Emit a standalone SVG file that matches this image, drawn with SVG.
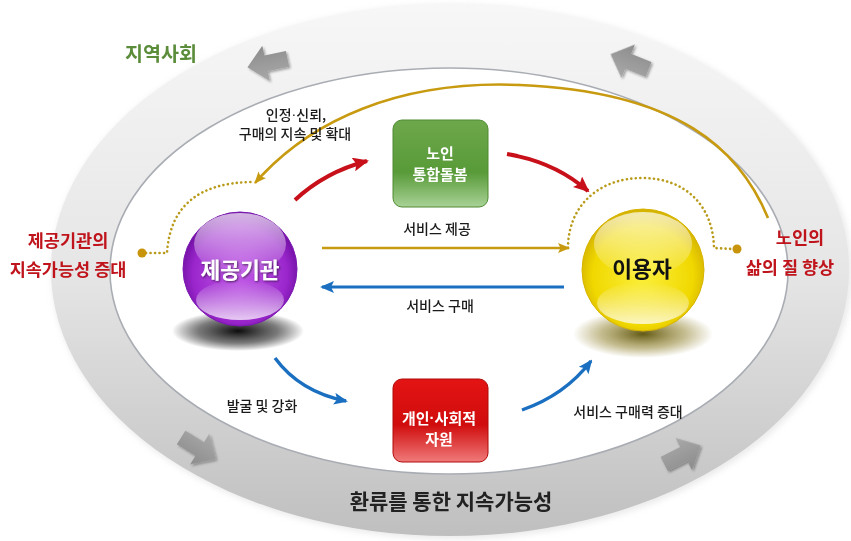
<svg xmlns="http://www.w3.org/2000/svg" width="851" height="541" viewBox="0 0 851 541">
  <style>
    text { font-family: "Noto Sans CJK KR", "Noto Sans", sans-serif; text-anchor: middle; dominant-baseline: central; }
    .lbl { font-size: 14px; font-weight: 500; fill: #1a1a1a; }
    .red { font-size: 17.5px; font-weight: bold; fill: #c0141c; }
    .box { font-size: 15px; font-weight: bold; fill: #ffffff; }
    .dt { font-family: "Liberation Sans", sans-serif; }
    .dots { fill: none; stroke: #b89a18; stroke-width: 2.6; stroke-linecap: round; stroke-dasharray: 0.1 4.4; }
    .gdot { fill: #c8940c; }
  </style>
  <defs>
    <linearGradient id="ringG" x1="0" y1="0" x2="0" y2="1">
      <stop offset="0" stop-color="#f7f7f7"/>
      <stop offset="0.5" stop-color="#e6e6e6"/>
      <stop offset="1" stop-color="#bfbfbf"/>
    </linearGradient>
    <linearGradient id="arrG" x1="0" y1="0" x2="0" y2="1">
      <stop offset="0" stop-color="#a9a9a9"/>
      <stop offset="1" stop-color="#8c8c8c"/>
    </linearGradient>
    <radialGradient id="purG" cx="0.5" cy="0.55" r="0.55">
      <stop offset="0" stop-color="#c25ae8"/>
      <stop offset="0.75" stop-color="#9a26cc"/>
      <stop offset="1" stop-color="#6c0c9e"/>
    </radialGradient>
    <radialGradient id="yelG" cx="0.5" cy="0.55" r="0.55">
      <stop offset="0" stop-color="#fbef3a"/>
      <stop offset="0.75" stop-color="#f0d800"/>
      <stop offset="1" stop-color="#d2b000"/>
    </radialGradient>
    <linearGradient id="hiG" x1="0" y1="0" x2="0" y2="1">
      <stop offset="0" stop-color="#ffffff" stop-opacity="0.7"/>
      <stop offset="1" stop-color="#ffffff" stop-opacity="0.05"/>
    </linearGradient>
    <linearGradient id="loG" x1="0" y1="0" x2="0" y2="1">
      <stop offset="0" stop-color="#ffffff" stop-opacity="0"/>
      <stop offset="1" stop-color="#ffffff" stop-opacity="0.75"/>
    </linearGradient>
    <radialGradient id="shP" cx="0.5" cy="0.5" r="0.5">
      <stop offset="0" stop-color="#000000" stop-opacity="0.95"/>
      <stop offset="0.6" stop-color="#202020" stop-opacity="0.6"/>
      <stop offset="1" stop-color="#000000" stop-opacity="0"/>
    </radialGradient>
    <radialGradient id="shY" cx="0.5" cy="0.5" r="0.5">
      <stop offset="0" stop-color="#5a5008" stop-opacity="0.95"/>
      <stop offset="0.6" stop-color="#8a7a20" stop-opacity="0.5"/>
      <stop offset="1" stop-color="#8a7a20" stop-opacity="0"/>
    </radialGradient>
    <linearGradient id="grnG" x1="0" y1="0" x2="0" y2="1">
      <stop offset="0" stop-color="#6ea84c"/>
      <stop offset="0.6" stop-color="#589a38"/>
      <stop offset="1" stop-color="#a8d296"/>
    </linearGradient>
    <linearGradient id="redG" x1="0" y1="0" x2="0" y2="1">
      <stop offset="0" stop-color="#e41414"/>
      <stop offset="0.55" stop-color="#d00c0c"/>
      <stop offset="1" stop-color="#f07a7a"/>
    </linearGradient>
    <filter id="soft" x="-20%" y="-20%" width="140%" height="140%">
      <feGaussianBlur stdDeviation="3"/>
    </filter>
    <filter id="ashadow" x="-30%" y="-30%" width="160%" height="160%">
      <feDropShadow dx="1.5" dy="1.5" stdDeviation="1.2" flood-color="#000" flood-opacity="0.35"/>
    </filter>
    <filter id="tshadow" x="-20%" y="-20%" width="140%" height="140%">
      <feDropShadow dx="1" dy="1" stdDeviation="0.8" flood-color="#000" flood-opacity="0.6"/>
    </filter>
    <path id="garrow" d="M-20,-8 L2,-8 L2,-18 L21,0 L2,18 L2,8 L-20,8 Z"/>
    <marker id="mRed" markerWidth="16" markerHeight="14" refX="14" refY="7" orient="auto" markerUnits="userSpaceOnUse">
      <path d="M0,0 L16,7 L0,14 L3,7 Z" fill="#c8101a"/>
    </marker>
    <marker id="mBlue" markerWidth="14" markerHeight="12" refX="12" refY="6" orient="auto" markerUnits="userSpaceOnUse">
      <path d="M0,0 L14,6 L0,12 L3,6 Z" fill="#1a6fc0"/>
    </marker>
    <marker id="mGold" markerWidth="12" markerHeight="10" refX="11" refY="5" orient="auto" markerUnits="userSpaceOnUse">
      <path d="M0,0 L12,5 L0,10 L2.5,5 Z" fill="#c89a10"/>
    </marker>
  </defs>

  <rect width="851" height="541" fill="#ffffff"/>

  <g id="community-ring">
    <ellipse cx="452" cy="272" rx="400" ry="267" fill="#d6d6d6" opacity="0.5" filter="url(#soft)"/>
    <ellipse cx="450" cy="270" rx="399" ry="266" fill="url(#ringG)"/>
    <ellipse cx="449" cy="271" rx="339" ry="203" fill="#ffffff" stroke="#a9adb3" stroke-width="1.6"/>
    <g fill="url(#arrG)" filter="url(#ashadow)">
      <use href="#garrow" transform="translate(268,63) rotate(168)"/>
      <use href="#garrow" transform="translate(630,62) rotate(-158)"/>
      <use href="#garrow" transform="translate(198,448) rotate(32)"/>
      <use href="#garrow" transform="translate(682,455) rotate(-27)"/>
    </g>
    <text x="161" y="52" style="font-size:19.5px;font-weight:bold;fill:#5a8c3a">지역사회</text>
    <text x="451" y="500" style="font-size:21px;font-weight:bold;fill:#222222">환류를 통한 지속가능성</text>
  </g>

  <g id="connectors">
    <path d="M768,218 C 740,150 680,92 520,85 C 400,80 310,120 255,183" fill="none" stroke="#c89a10" stroke-width="2.6" marker-end="url(#mGold)"/>
    <path d="M146,253 L167,253 C 170,205 200,183 251,182" class="dots"/>
    <path d="M568,248 C 568,205 600,178 642,178 C 685,178 713,205 714,248 L733,249" class="dots"/>
    <circle cx="142" cy="253" r="4.5" class="gdot"/>
    <circle cx="737" cy="249" r="4.5" class="gdot"/>
    <path d="M295,200 Q325,172 367,161" fill="none" stroke="#c8101a" stroke-width="4" marker-end="url(#mRed)"/>
    <path d="M507,154 Q555,162 588,191" fill="none" stroke="#c8101a" stroke-width="4" marker-end="url(#mRed)"/>
    <path d="M322,248 L569,248" fill="none" stroke="#c89a10" stroke-width="2.6" marker-end="url(#mGold)"/>
    <path d="M564,287 L322,287" fill="none" stroke="#1a6fc0" stroke-width="3.2" marker-end="url(#mBlue)"/>
    <path d="M275,358 Q300,392 346,401" fill="none" stroke="#1a6fc0" stroke-width="3.4" marker-end="url(#mBlue)"/>
    <path d="M522,410 Q565,395 591,361" fill="none" stroke="#1a6fc0" stroke-width="3.4" marker-end="url(#mBlue)"/>
    <text x="296" y="114" class="lbl">인정<tspan class="dt">·</tspan>신뢰,</text>
    <text x="295" y="133" class="lbl">구매의 지속 및 확대</text>
    <text x="437" y="228" class="lbl">서비스 제공</text>
    <text x="440" y="305" class="lbl">서비스 구매</text>
    <text x="262" y="405" class="lbl">발굴 및 강화</text>
    <text x="628" y="411" class="lbl">서비스 구매력 증대</text>
  </g>

  <g id="provider">
    <ellipse cx="238" cy="331" rx="66" ry="20" fill="url(#shP)"/>
    <circle cx="240" cy="269" r="57" fill="url(#purG)" stroke="#7a18b0" stroke-width="1"/>
    <ellipse cx="240" cy="244" rx="46" ry="31" fill="url(#hiG)"/>
    <ellipse cx="240" cy="300" rx="44" ry="20" fill="url(#loG)"/>
    <text x="240" y="268" filter="url(#tshadow)" style="font-size:21.5px;font-weight:bold;fill:#ffffff">제공기관</text>
  </g>

  <g id="user">
    <ellipse cx="643" cy="334" rx="70" ry="24" fill="url(#shY)"/>
    <circle cx="643" cy="270" r="61" fill="url(#yelG)" stroke="#d8b400" stroke-width="1"/>
    <ellipse cx="643" cy="244" rx="49" ry="32" fill="url(#hiG)"/>
    <ellipse cx="643" cy="303" rx="46" ry="21" fill="url(#loG)"/>
    <text x="642" y="267" style="font-size:21.5px;font-weight:bold;fill:#111111">이용자</text>
  </g>

  <g id="elderly-care">
    <rect x="393" y="120" width="95" height="87" rx="9" fill="url(#grnG)" stroke="#4f8a32" stroke-width="1"/>
    <text x="440" y="152" class="box">노인</text>
    <text x="440" y="173" class="box">통합돌봄</text>
  </g>

  <g id="resources">
    <rect x="393" y="379" width="95" height="83" rx="9" fill="url(#redG)" stroke="#b00a0a" stroke-width="1"/>
    <text x="439" y="417" class="box">개인<tspan class="dt">·</tspan>사회적</text>
    <text x="439" y="438" class="box">자원</text>
  </g>

  <g id="outcomes">
    <text x="68" y="239" class="red">제공기관의</text>
    <text x="68" y="268" class="red">지속가능성 증대</text>
    <text x="800" y="236" class="red">노인의</text>
    <text x="790" y="266" class="red">삶의 질 향상</text>
  </g>
</svg>
